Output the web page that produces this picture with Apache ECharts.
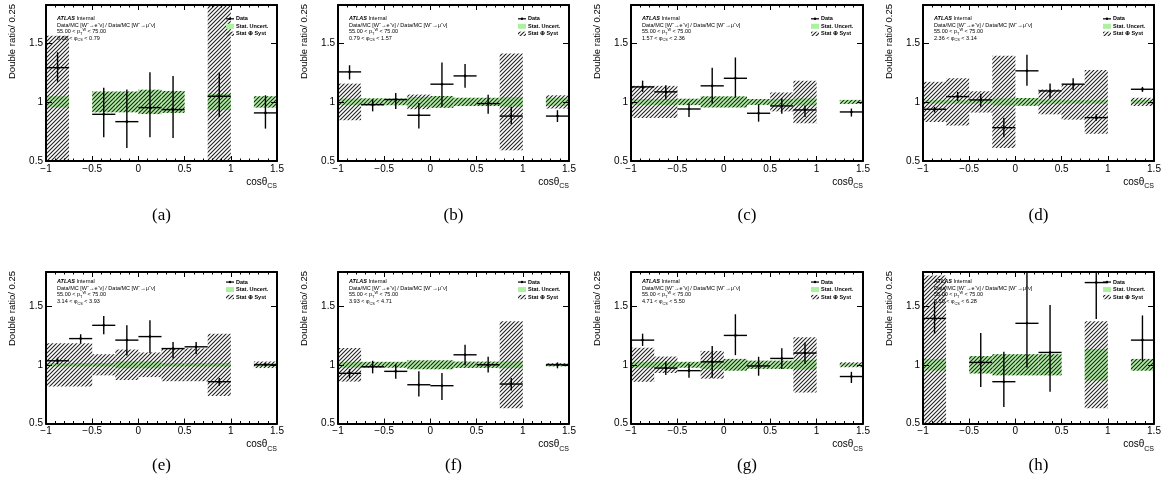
<!DOCTYPE html>
<html><head><meta charset="utf-8">
<script src="https://cdn.jsdelivr.net/npm/echarts@6/dist/echarts.min.js"></script>
<style>html,body{margin:0;padding:0;background:#fff}#c{width:1168px;height:497px}</style>
</head><body><div id="c"></div>
<script>
// ---------------- data ----------------
const binEdges = [-1, -0.75, -0.5, -0.25, 0, 0.25, 0.5, 0.75, 1, 1.25, 1.5];
const panelLabels = ['(a)', '(b)', '(c)', '(d)', '(e)', '(f)', '(g)', '(h)'];
const phiLo = ['0.00', '0.79', '1.57', '2.36', '3.14', '3.93', '4.71', '5.50'];
const phiHi = ['0.79', '1.57', '2.36', '3.14', '3.93', '4.71', '5.50', '6.28'];
const ptLo = '55.00', ptHi = '75.00';
const legendNames = ['Data', 'Stat. Uncert.', 'Stat \u2295 Syst'];

const dataY = [
  [1.29, null, 0.895, 0.833, 0.952, 0.935, null, 1.048, null, 0.907],
  [1.254, 0.977, 1.02, 0.887, 1.15, 1.22, 0.986, 0.88, null, 0.88],
  [1.127, 1.085, 0.94, 1.136, 1.20, 0.904, 0.966, 0.932, null, 0.915],
  [0.938, 1.045, 1.017, 0.782, 1.263, 1.093, 1.15, 0.867, null, 1.107],
  [1.034, 1.223, 1.336, 1.21, 1.24, 1.138, 1.153, 0.856, null, 1.0],
  [0.927, 0.983, 0.944, 0.83, 0.822, 1.085, 1.0, 0.836, null, 1.0],
  [1.21, 0.972, 0.95, 1.025, 1.25, 0.99, 1.054, 1.1, null, 0.9],
  [1.395, null, 1.02, 0.856, 1.353, 1.105, null, 1.70, null, 1.21]
];
const errUp = [
  [0.13, null, 0.225, 0.272, 0.30, 0.285, null, 0.198, null, 0.149],
  [0.056, 0.048, 0.056, 0.103, 0.183, 0.10, 0.074, 0.078, null, 0.05],
  [0.053, 0.055, 0.046, 0.154, 0.176, 0.076, 0.064, 0.038, null, 0.029],
  [0.02, 0.04, 0.053, 0.085, 0.137, 0.062, 0.05, 0.028, null, 0.02],
  [0.026, 0.037, 0.079, 0.126, 0.14, 0.057, 0.042, 0.031, null, 0.014],
  [0.036, 0.051, 0.062, 0.114, 0.108, 0.085, 0.068, 0.051, null, 0.02],
  [0.055, 0.056, 0.056, 0.135, 0.18, 0.078, 0.086, 0.09, null, 0.04],
  [0.145, null, 0.25, 0.254, 0.6, 0.405, null, 0.3, null, 0.21]
];
const errDown = [
  [0.12, null, 0.195, 0.223, 0.252, 0.24, null, 0.175, null, 0.133],
  [0.064, 0.057, 0.08, 0.113, 0.192, 0.10, 0.086, 0.07, null, 0.05],
  [0.042, 0.065, 0.067, 0.15, 0.163, 0.071, 0.066, 0.059, null, 0.039],
  [0.028, 0.037, 0.059, 0.082, 0.127, 0.063, 0.05, 0.027, null, 0.022],
  [0.029, 0.043, 0.076, 0.13, 0.14, 0.084, 0.063, 0.034, null, 0.014],
  [0.04, 0.056, 0.064, 0.1, 0.122, 0.088, 0.065, 0.056, null, 0.03],
  [0.05, 0.06, 0.06, 0.135, 0.168, 0.083, 0.091, 0.094, null, 0.055],
  [0.13, null, 0.21, 0.216, 0.376, 0.335, null, 0.31, null, 0.176]
];
const statErr = [
  [0.048, null, 0.088, 0.088, 0.103, 0.093, null, 0.07, null, 0.048],
  [0.028, 0.03, 0.028, 0.042, 0.05, 0.035, 0.035, 0.04, null, 0.035],
  [0.025, 0.025, 0.027, 0.047, 0.047, 0.025, 0.025, 0.03, null, 0.017],
  [0.015, 0.015, 0.015, 0.03, 0.033, 0.02, 0.015, 0.015, null, 0.017],
  [0.015, 0.015, 0.015, 0.03, 0.03, 0.015, 0.015, 0.015, null, 0.014],
  [0.025, 0.025, 0.025, 0.038, 0.038, 0.027, 0.027, 0.03, null, 0.013],
  [0.025, 0.025, 0.025, 0.035, 0.05, 0.035, 0.035, 0.042, null, 0.014],
  [0.05, null, 0.074, 0.09, 0.09, 0.09, null, 0.135, null, 0.05]
];
const totalErr = [
  [0.56, null, 0.088, 0.088, 0.103, 0.093, null, 1.0, null, 0.048],
  [0.155, 0.03, 0.028, 0.062, 0.05, 0.035, 0.035, 0.41, null, 0.056],
  [0.136, 0.136, 0.027, 0.047, 0.047, 0.025, 0.08, 0.18, null, 0.017],
  [0.17, 0.2, 0.09, 0.39, 0.033, 0.105, 0.15, 0.27, null, 0.035],
  [0.184, 0.184, 0.09, 0.13, 0.105, 0.14, 0.14, 0.265, null, 0.028],
  [0.143, 0.025, 0.025, 0.038, 0.038, 0.027, 0.027, 0.37, null, 0.013],
  [0.145, 0.07, 0.025, 0.118, 0.05, 0.035, 0.035, 0.235, null, 0.021],
  [0.76, null, 0.074, 0.09, 0.09, 0.09, null, 0.37, null, 0.05]
];

// ---------------- layout / style ----------------
const FONT = "'Liberation Sans', Arial, Helvetica, sans-serif";
const rows = [{top: 5, bottom: 161, yMax: 1.82, caption: 216}, {top: 272, bottom: 423.5, yMax: 1.79, caption: 466}];
const colLeft = [46, 338, 631, 923];
const colWidth = [231, 231, 232, 231];
const GREEN = '#adf0a0';

const hatch = document.createElement('canvas');
hatch.width = 4; hatch.height = 4;
(function () {
  const c = hatch.getContext('2d');
  c.strokeStyle = '#222'; c.lineWidth = 1.1;
  c.beginPath();
  c.moveTo(0, 4); c.lineTo(4, 0);
  c.moveTo(-1, 1); c.lineTo(1, -1);
  c.moveTo(3, 5); c.lineTo(5, 3);
  c.stroke();
})();
const HATCH = {image: hatch, repeat: 'repeat'};

function fmtX(v) { return v < 0 ? '\u2212' + String(-v) : String(v); }

function rectRender(fill) {
  return function (params, api) {
    const cs = params.coordSys;
    const a = api.coord([api.value(0), api.value(3)]);
    const b = api.coord([api.value(1), api.value(2)]);
    const top = Math.max(a[1], cs.y), bot = Math.min(b[1], cs.y + cs.height);
    return {type: 'rect', shape: {x: a[0], y: top, width: b[0] - a[0], height: bot - top}, style: {fill: fill}};
  };
}
function dataRender(params, api) {
  const cs = params.coordSys;
  const cl = v => Math.max(cs.y, Math.min(cs.y + cs.height, v));
  const xm = (api.value(0) + api.value(1)) / 2;
  const l = api.coord([api.value(0), api.value(2)]);
  const r = api.coord([api.value(1), api.value(2)]);
  const lo = api.coord([xm, api.value(3)]);
  const hi = api.coord([xm, api.value(4)]);
  const cx = (l[0] + r[0]) / 2, cy = l[1];
  const st = {stroke: '#000', lineWidth: 1.4};
  return {type: 'group', children: [
    {type: 'line', shape: {x1: l[0], y1: cy, x2: r[0], y2: cy}, style: st},
    {type: 'line', shape: {x1: cx, y1: cl(lo[1]), x2: cx, y2: cl(hi[1])}, style: st},
    {type: 'circle', shape: {cx: cx, cy: cy, r: 1.3}, style: {fill: '#000'}}
  ]};
}

const grids = [], xAxes = [], yAxes = [], series = [], graphics = [];
for (let p = 0; p < 8; p++) {
  const row = rows[p < 4 ? 0 : 1];
  const col = p % 4;
  const left = colLeft[col], width = colWidth[col], top = row.top, height = row.bottom - row.top;
  grids.push({left: left, top: top, width: width, height: height});
  const line = {show: true, onZero: false, lineStyle: {color: '#000', width: 2}};
  const baseX = {gridIndex: p, type: 'value', min: -1, max: 1.5, interval: 0.5, z: 5,
    axisLine: line, splitLine: {show: false},
    axisTick: {show: true, inside: true, length: 5, lineStyle: {color: '#000', width: 1}},
    minorTick: {show: true, splitNumber: 5, length: 2.5, lineStyle: {color: '#000', width: 1}}};
  xAxes.push(Object.assign({}, baseX, {position: 'bottom',
    axisLabel: {show: true, formatter: fmtX, fontSize: 10, fontFamily: FONT, color: '#000', margin: 3, showMinLabel: true, showMaxLabel: true}}));
  xAxes.push(Object.assign({}, baseX, {position: 'top', axisLabel: {show: false}}));
  const baseY = {gridIndex: p, type: 'value', min: 0.5, max: row.yMax, interval: 0.5, z: 5,
    axisLine: line, splitLine: {show: false},
    axisTick: {show: true, inside: true, length: 6, lineStyle: {color: '#000', width: 1}}};
  yAxes.push(Object.assign({}, baseY, {position: 'left',
    axisLabel: {show: true, fontSize: 10, fontFamily: FONT, color: '#000', margin: 3, showMaxLabel: false, showMinLabel: true,
      formatter: v => String(v)}}));
  yAxes.push(Object.assign({}, baseY, {position: 'right', axisLabel: {show: false}}));

  const statData = [], totData = [], ptData = [];
  for (let i = 0; i < 10; i++) {
    const lo = binEdges[i], hi = binEdges[i + 1];
    if (statErr[p][i] != null) statData.push([lo, hi, 1 - statErr[p][i], 1 + statErr[p][i]]);
    if (totalErr[p][i] != null) totData.push([lo, hi, 1 - totalErr[p][i], 1 + totalErr[p][i]]);
    if (dataY[p][i] != null) ptData.push([lo, hi, dataY[p][i], dataY[p][i] - errDown[p][i], dataY[p][i] + errUp[p][i]]);
  }
  series.push({type: 'custom', xAxisIndex: 2 * p, yAxisIndex: 2 * p, renderItem: rectRender(GREEN),
    encode: {x: [0, 1], y: [2, 3]}, data: statData, silent: true, z: 1});
  series.push({type: 'custom', xAxisIndex: 2 * p, yAxisIndex: 2 * p, renderItem: rectRender(HATCH),
    encode: {x: [0, 1], y: [2, 3]}, data: totData, silent: true, z: 2});
  series.push({type: 'custom', xAxisIndex: 2 * p, yAxisIndex: 2 * p, renderItem: dataRender,
    encode: {x: [0, 1], y: [2, 3, 4]}, data: ptData, silent: true, z: 3});

  // annotation positions (relative to the y = 1.5 tick)
  const y15 = top + (row.yMax - 1.5) / (row.yMax - 0.5) * height;
  const tx = left + 11;
  const small = {fontSize: 5.5, fontFamily: FONT, fill: '#000', align: 'left', verticalAlign: 'middle', textAlign: 'left', textVerticalAlign: 'middle'};
  graphics.push({type: 'text', x: tx, y: y15 - 24.5, z: 10, style: Object.assign({}, small, {
    text: '{b|ATLAS} Internal', rich: {b: {fontSize: 5.5, fontFamily: FONT, fontWeight: 'bold', fontStyle: 'italic'}}})});
  graphics.push({type: 'text', x: tx, y: y15 - 17.8, z: 10, style: Object.assign({}, small, {
    text: 'Data/MC [W\u207B\u2192e\u207B\u03BD] / Data/MC [W\u207B\u2192\u03BC\u207B\u03BD]'})});
  graphics.push({type: 'text', x: tx, y: y15 - 11.3, z: 10, style: Object.assign({}, small, {
    text: ptLo + ' < p{s|T}{u|W} < ' + ptHi,
    rich: {s: {fontSize: 3.8, fontFamily: FONT, verticalAlign: 'bottom', lineHeight: 8}, u: {fontSize: 3.8, fontFamily: FONT, verticalAlign: 'top', lineHeight: 8}}})});
  graphics.push({type: 'text', x: tx, y: y15 - 4.6, z: 10, style: Object.assign({}, small, {
    text: phiLo[p] + ' < \u03C6{s|CS} < ' + phiHi[p],
    rich: {s: {fontSize: 3.8, fontFamily: FONT, verticalAlign: 'bottom', lineHeight: 8}}})});

  // legend
  const lx = left + 180, ltx = left + 190;
  const ly = [y15 - 24, y15 - 16.5, y15 - 9];
  graphics.push({type: 'line', z: 10, shape: {x1: lx, y1: ly[0], x2: lx + 8, y2: ly[0]}, style: {stroke: '#000', lineWidth: 1.2}});
  graphics.push({type: 'circle', z: 10, shape: {cx: lx + 4, cy: ly[0], r: 1.2}, style: {fill: '#000'}});
  graphics.push({type: 'rect', z: 10, shape: {x: lx, y: ly[1] - 2.5, width: 8, height: 5}, style: {fill: GREEN}});
  graphics.push({type: 'rect', z: 10, shape: {x: lx, y: ly[2] - 2.2, width: 8, height: 4.4}, style: {fill: HATCH}});
  for (let k = 0; k < 3; k++) {
    graphics.push({type: 'text', x: ltx, y: ly[k], z: 10, style: Object.assign({}, small, {text: legendNames[k], fontWeight: 'bold'})});
  }

  // axis titles
  graphics.push({type: 'text', x: left - 34, y: top - 1, rotation: Math.PI / 2, z: 10, style: {
    text: 'Double ratio/ 0.25', fontSize: 9.5, fontFamily: FONT, fill: '#000',
    align: 'right', verticalAlign: 'middle', textAlign: 'right', textVerticalAlign: 'middle'}});
  graphics.push({type: 'text', x: left + width, y: row.bottom + 21, z: 10, style: {
    text: 'cos\u03B8{s|CS}', fontSize: 10, fontFamily: FONT, fill: '#000',
    align: 'right', verticalAlign: 'middle', textAlign: 'right', textVerticalAlign: 'middle',
    rich: {s: {fontSize: 7, fontFamily: FONT, verticalAlign: 'bottom', lineHeight: 16}}}});
  // caption
  graphics.push({type: 'text', x: left + width / 2, y: row.caption, z: 10, style: {
    text: panelLabels[p], fontSize: 17, fontFamily: "'Liberation Serif', 'Times New Roman', serif", fill: '#000',
    align: 'center', verticalAlign: 'middle', textAlign: 'center', textVerticalAlign: 'middle'}});
}

const chart = echarts.init(document.getElementById('c'), null, {renderer: 'canvas'});
chart.setOption({
  animation: false,
  backgroundColor: '#fff',
  grid: grids,
  xAxis: xAxes,
  yAxis: yAxes,
  series: series,
  graphic: {elements: graphics}
});
</script>
</body></html>
